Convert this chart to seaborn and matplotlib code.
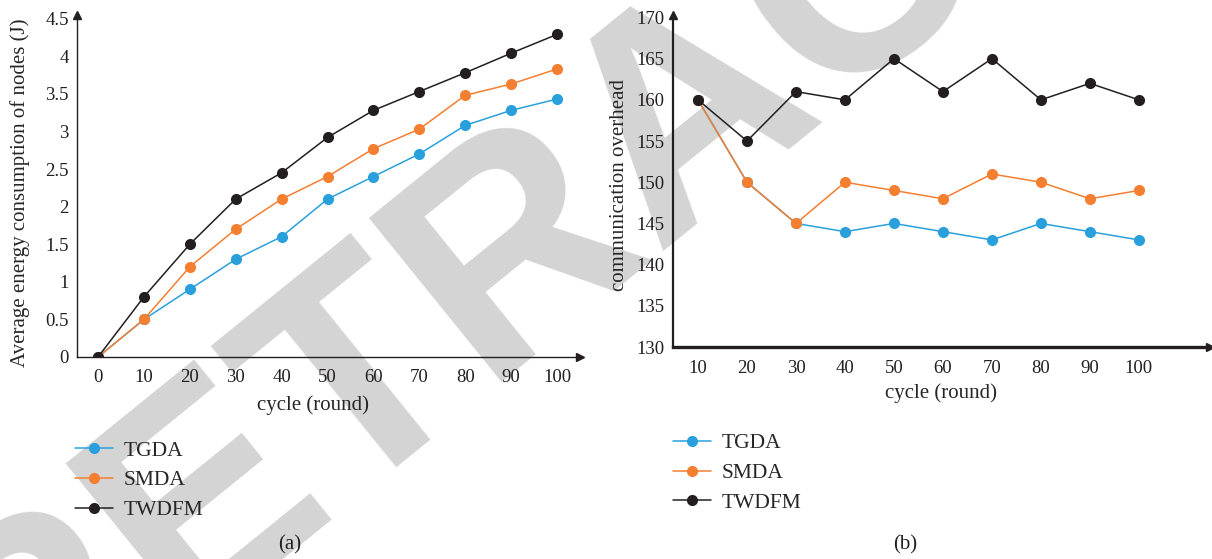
import matplotlib
matplotlib.use("Agg")
import matplotlib.pyplot as plt
import numpy as np
import pandas as pd
import seaborn as sns

# panel (a): average energy consumption
cycle_a = [0, 10, 20, 30, 40, 50, 60, 70, 80, 90, 100]
tgda_a = [0, 0.5, 0.9, 1.3, 1.6, 2.1, 2.4, 2.7, 3.08, 3.28, 3.43]
smda_a = [0, 0.5, 1.2, 1.7, 2.1, 2.4, 2.77, 3.03, 3.48, 3.63, 3.83]
twdfm_a = [0, 0.8, 1.5, 2.1, 2.45, 2.92, 3.28, 3.53, 3.78, 4.04, 4.29]

# panel (b): communication overhead
cycle_b = [10, 20, 30, 40, 50, 60, 70, 80, 90, 100]
tgda_b = [160, 150, 145, 144, 145, 144, 143, 145, 144, 143]
smda_b = [160, 150, 145, 150, 149, 148, 151, 150, 148, 149]
twdfm_b = [160, 155, 161, 160, 165, 161, 165, 160, 162, 160]

methods = ["TGDA", "SMDA", "TWDFM"]
colors = ["#29a0db", "#f47f31", "#231f20"]

yticks_a = [0, 0.5, 1, 1.5, 2, 2.5, 3, 3.5, 4, 4.5]
yticks_b = [130, 135, 140, 145, 150, 155, 160, 165, 170]


def to_long(x, series):
    frames = []
    for name, vals in zip(methods, series):
        frames.append(pd.DataFrame({"cycle": x, "value": vals, "method": name}))
    return pd.concat(frames, ignore_index=True)


df_a = to_long(cycle_a, [tgda_a, smda_a, twdfm_a])
df_b = to_long(cycle_b, [tgda_b, smda_b, twdfm_b])

sns.set_theme(style="white")
plt.rcParams["font.family"] = ["Liberation Serif", "DejaVu Serif"]
plt.rcParams["font.size"] = 13.5

fig = plt.figure(figsize=(12.12, 5.59), dpi=100)

# watermark behind everything
fig.text(0.569, 0.80, "RETRACTED", rotation=39, rotation_mode="anchor",
         ha="center", va="center", fontsize=220, fontweight="bold",
         family="Liberation Sans", color="#d4d4d4", zorder=0)

ax1 = fig.add_axes([0.0635, 0.3614, 0.415, 0.612], zorder=1)
ax2 = fig.add_axes([0.5553, 0.3792, 0.443, 0.594], zorder=1)

for ax, df in [(ax1, df_a), (ax2, df_b)]:
    ax.patch.set_alpha(0)
    sns.lineplot(data=df, x="cycle", y="value", hue="method", hue_order=methods,
                 palette=colors, marker="o", markersize=8, markeredgewidth=0,
                 linewidth=1.1, ax=ax, legend=True)

ax1.set_xlim(-4.6, 105)
ax1.set_ylim(0, 4.55)
ax1.set_xticks(cycle_a)
ax1.set_yticks(yticks_a)
ax1.set_yticklabels([f"{v:g}" for v in yticks_a])

ax2.set_xlim(4.9, 114.5)
ax2.set_ylim(130, 170.3)
ax2.set_xticks(cycle_b)
ax2.set_yticks(yticks_b)

ax1.set_xlabel("cycle (round)", fontsize=15, va="center")
ax1.set_ylabel("Average energy consumption of nodes (J)", fontsize=15, va="center")
ax1.xaxis.set_label_coords(0.469, -0.14)
ax1.yaxis.set_label_coords(-0.113, 0.48)

ax2.set_xlabel("cycle (round)", fontsize=15, va="center")
ax2.set_ylabel("communication overhead", fontsize=15, va="center")
ax2.xaxis.set_label_coords(0.50, -0.139)
ax2.yaxis.set_label_coords(-0.099, 0.488)

for ax, lw_left, lw_bottom in [(ax1, 1.0, 1.0), (ax2, 1.6, 2.4)]:
    for side in ["top", "right"]:
        ax.spines[side].set_visible(False)
    ax.spines["left"].set_color("#231f20")
    ax.spines["bottom"].set_color("#231f20")
    ax.spines["left"].set_linewidth(lw_left)
    ax.spines["bottom"].set_linewidth(lw_bottom)
    ax.tick_params(axis="both", length=0, colors="#231f20", labelsize=13.5)
    ax.tick_params(axis="x", pad=9)
    ax.tick_params(axis="y", pad=6)
    # arrow heads at the ends of the axes
    ax.plot(1, 0, ">", color="#231f20", markersize=6,
            transform=ax.transAxes, clip_on=False)
    ax.plot(0, 1, "^", color="#231f20", markersize=6,
            transform=ax.transAxes, clip_on=False)

handles, labels = ax1.get_legend_handles_labels()
ax1.get_legend().remove()
ax2.get_legend().remove()

leg_kw = dict(frameon=False, fontsize=15.5, handlelength=1.75, handletextpad=0.5,
              labelspacing=0.45, borderpad=0, borderaxespad=0, loc="upper left")
fig.legend(handles, labels, bbox_to_anchor=(0.0619, 0.212), **leg_kw)
fig.legend(handles, labels, bbox_to_anchor=(0.5553, 0.225), **leg_kw)

fig.text(0.239, 0.025, "(a)", ha="center", va="center", fontsize=15, color="#231f20")
fig.text(0.747, 0.025, "(b)", ha="center", va="center", fontsize=15, color="#231f20")

fig.savefig("out.png", dpi=100)
